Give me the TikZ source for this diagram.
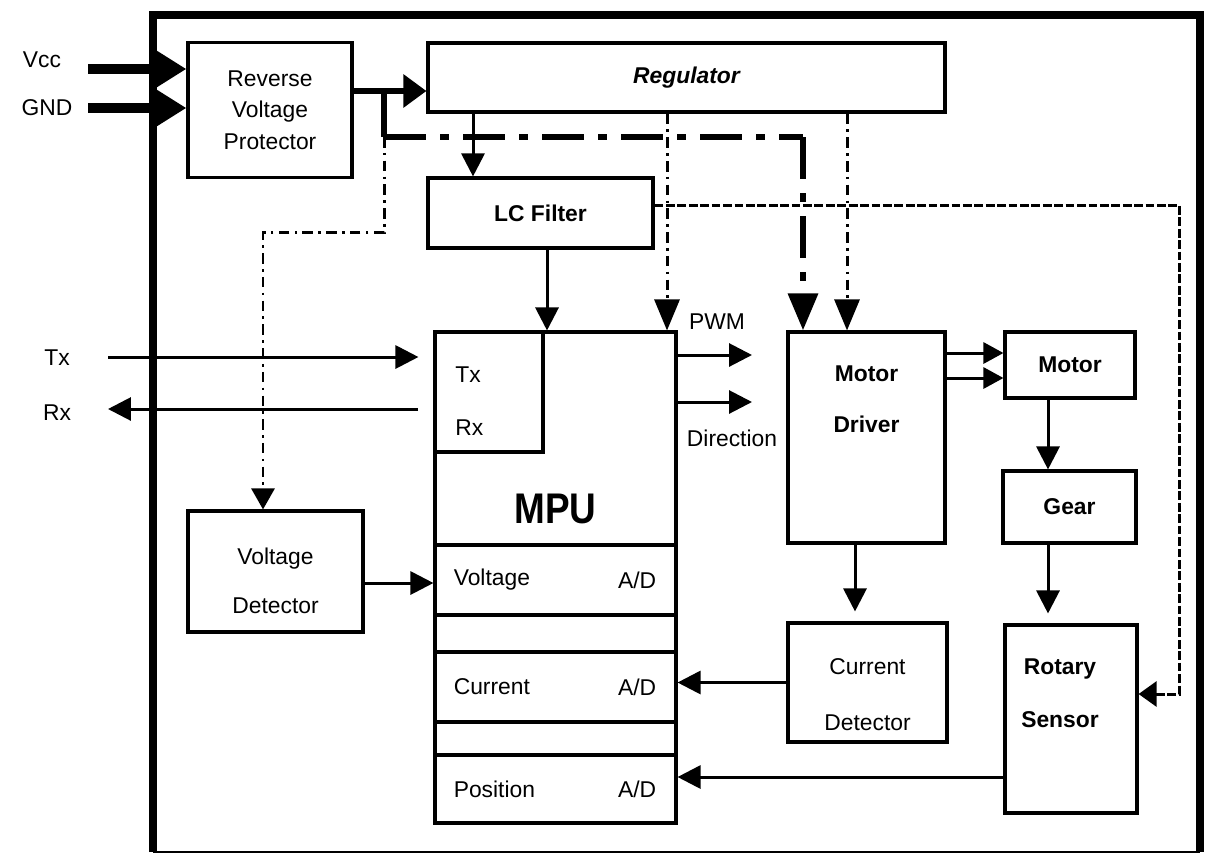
\documentclass[tikz,border=0pt]{standalone}
\usepackage{fontspec}
\setmainfont{Liberation Sans}
\usetikzlibrary{arrows.meta,positioning,calc}

\begin{document}
\begin{tikzpicture}[
    x=0.02cm, y=-0.02cm,
    every node/.style={font=\fontsize{13}{16}\selectfont},
    box/.style={draw=black, rectangle, line width=1.8pt, inner sep=0pt, align=center},
    lbl/.style={inner sep=0pt, align=center},
    bold/.style={font=\fontsize{13}{16}\selectfont\bfseries},
    conn/.style={line width=1.7pt, -{Triangle[length=0.46cm,width=0.46cm]}},
    dashdot/.style={line width=1.7pt, dash pattern=on 6pt off 3pt on 1.5pt off 3pt, -{Triangle[length=0.62cm,width=0.5cm]}},
    fdash/.style={line width=1.7pt, dash pattern=on 5pt off 1.5pt, -{Triangle[length=0.36cm,width=0.5cm]}},
    pwr/.style={line width=5.5pt, -{Triangle[length=0.72cm,width=0.84cm]}},
    bus/.style={line width=3.6pt, dash pattern=on 24pt off 8pt on 5pt off 8pt}
]
    \useasboundingbox (0,0) rectangle (1212,856);

    % Module frame
    \draw[line width=5pt] (153,852) -- (153,15) -- (1200,15) -- (1200,852);
    \draw[line width=1pt] (153,852) -- (1200,852);

    % Supply side
    \node[box, minimum width=3.28cm, minimum height=2.7cm] (rvp) at (270,110) {Reverse\\[2pt]Voltage\\[2pt]Protector};
    \node[box, minimum width=10.34cm, minimum height=1.38cm, font=\fontsize{13}{16}\selectfont\bfseries\itshape] (reg) at (686.5,77.5) {Regulator};
    \node[box, bold, minimum width=4.5cm, minimum height=1.4cm] (lc) at (540.5,213) {LC Filter};
    \node[box, minimum width=3.5cm, minimum height=2.42cm,
          label={[lbl, anchor=north, yshift=-0.76cm]north:{Voltage\\[12pt]Detector}}] (vdet) at (275.5,571.5) {};

    % MPU with its ports
    \node[box, minimum width=4.82cm, minimum height=9.82cm] (mpu) at (555.5,577.5) {};
    \node[box, minimum width=2.16cm, minimum height=2.4cm, anchor=north west] (com) at (mpu.north west) {};
    \node[lbl, anchor=west] (mtx) at (455,375) {Tx};
    \node[lbl, anchor=west] (mrx) at (455,428) {Rx};
    \node[lbl] (mpulbl) at (555.5,509) {\scalebox{1.05}[1.22]{\fontsize{20}{24}\selectfont\bfseries MPU}};
    \node[box, minimum width=4.82cm, minimum height=1.4cm] (vrow) at (555.5,580) {};
    \node[box, minimum width=4.82cm, minimum height=1.4cm] (crow) at (555.5,687) {};
    \node[box, minimum width=4.82cm, minimum height=1.36cm] (prow) at (555.5,789) {};
    \node[lbl, anchor=west] (vlab) at ([xshift=0.4cm]vrow.west) {Voltage};
    \node[lbl, anchor=east] (vad) at ([xshift=-0.42cm]vrow.east) {A/D};
    \node[lbl, anchor=west] (clab) at ([xshift=0.4cm]crow.west) {Current};
    \node[lbl, anchor=east] (cad) at ([xshift=-0.42cm]crow.east) {A/D};
    \node[lbl, anchor=west] (plab) at ([xshift=0.4cm]prow.west) {Position};
    \node[lbl, anchor=east] (pad) at ([xshift=-0.42cm]prow.east) {A/D};

    % Drive chain
    \node[box, minimum width=3.14cm, minimum height=4.22cm,
          label={[lbl, bold, anchor=north, yshift=-0.7cm]north:{Motor\\[13pt]Driver}}] (mdrv) at (866.5,437.5) {};
    \node[box, bold, minimum width=2.6cm, minimum height=1.32cm] (motor) at (1070,365) {Motor};
    \node[box, bold, minimum width=2.66cm, minimum height=1.44cm] (gear) at (1069.5,507) {Gear};
    \node[box, minimum width=3.18cm, minimum height=2.38cm,
          label={[lbl, anchor=north, yshift=-0.74cm]north:{Current\\[16pt]Detector}}] (cdet) at (867.5,682.5) {};
    \node[box, minimum width=2.64cm, minimum height=3.76cm,
          label={[lbl, bold, anchor=north, xshift=-0.22cm, yshift=-0.7cm]north:{Rotary\\[14pt]Sensor}}] (rot) at (1071,719) {};

    % Outside labels
    \node[lbl] (vcc) at (42,60) {Vcc};
    \node[lbl] (gnd) at (47,108) {GND};
    \node[lbl] (tx) at (57,358) {Tx};
    \node[lbl] (rx) at (57,413) {Rx};
    \node[lbl] (pwm) at (717,322) {PWM};
    \node[lbl] (dir) at (732,438) {Direction};

    % Helper points
    \coordinate (vccin) at (88,69);
    \coordinate (gndin) at (88,108);
    \coordinate (split) at (384,91);
    \coordinate (bend) at (384,137);
    \coordinate (vdrop) at (384,232);
    \coordinate (vturn) at (263,232);
    \coordinate (bcorner) at (803,137);
    \coordinate (lcturn) at (1179,205);
    \coordinate (lcdown) at (1179,694);
    \coordinate (txin) at (108,357);
    \coordinate (rxin) at (418,409);
    \coordinate (pwmout) at (752,355);
    \coordinate (dirout) at (752,402);
    \coordinate (xlc) at (473,0);
    \coordinate (xmp) at (667,0);
    \coordinate (xmd) at (847,0);
    \coordinate (xlm) at (547,0);
    \coordinate (xcd) at (855,0);
    \coordinate (xmg) at (1048,0);
    \coordinate (ym1) at (0,353);
    \coordinate (ym2) at (0,378);
    \coordinate (yvd) at (0,583);
    \coordinate (ypos) at (0,777);

    % Power inputs
    \draw[pwr] (vccin) -- (vccin -| rvp.west);
    \draw[pwr] (gndin) -- (gndin -| rvp.west);

    % Protected supply bus
    \draw[line width=3.6pt] (rvp.east |- split) -- (split) -- (bend);
    \draw[bus, -{Triangle[length=0.46cm,width=0.64cm]}] (split) -- (split -| reg.west);
    \draw[bus] (bend) -- (bcorner);
    \draw[bus, -{Triangle[length=0.74cm,width=0.58cm]}] (bcorner) -- (bcorner |- mdrv.north);
    \draw[dashdot, -{Triangle[length=0.42cm,width=0.46cm]}] (bend) -- (vdrop) -- (vturn) -- (vturn |- vdet.north);

    % Regulator outputs
    \draw[conn] (xlc |- reg.south) -- (xlc |- lc.north);
    \draw[dashdot] (xmp |- reg.south) -- (xmp |- mpu.north);
    \draw[dashdot] (xmd |- reg.south) -- (xmd |- mdrv.north);
    \draw[conn] (xlm |- lc.south) -- (xlm |- mpu.north);
    \draw[fdash] (lc.east |- lcturn) -- (lcturn) -- (lcdown) -- (lcdown -| rot.east);

    % Serial link
    \draw[conn, shorten >=0.3cm] (txin) -- (txin -| mpu.west);
    \draw[conn] (rxin) -- (txin |- rxin);

    % Control signals
    \draw[conn] (mpu.east |- pwmout) -- (pwmout);
    \draw[conn] (mpu.east |- dirout) -- (dirout);
    \draw[conn, -{Triangle[length=0.4cm,width=0.42cm]}] (mdrv.east |- ym1) -- (motor.west |- ym1);
    \draw[conn, -{Triangle[length=0.4cm,width=0.42cm]}] (mdrv.east |- ym2) -- (motor.west |- ym2);
    \draw[conn] (xmg |- motor.south) -- (xmg |- gear.north);
    \draw[conn, shorten >=0.2cm] (xmg |- gear.south) -- (xmg |- rot.north);
    \draw[conn, shorten >=0.2cm] (xcd |- mdrv.south) -- (xcd |- cdet.north);

    % Feedback to A/D
    \draw[conn] (vdet.east |- yvd) -- (mpu.west |- yvd);
    \draw[conn] (cdet.west) -- (cdet.west -| mpu.east);
    \draw[conn] (rot.west |- ypos) -- (mpu.east |- ypos);

\end{tikzpicture}
\end{document}
